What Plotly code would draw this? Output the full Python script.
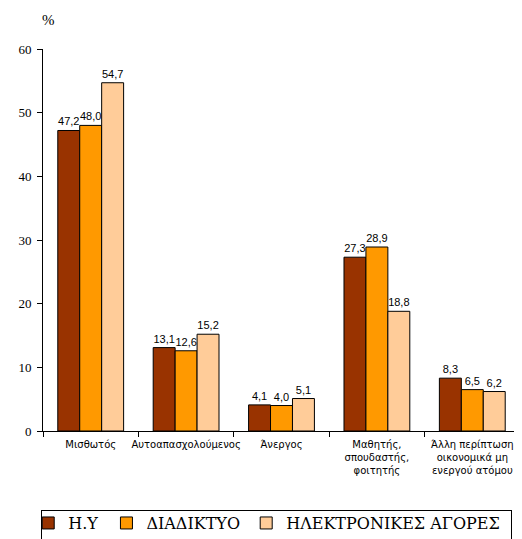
import plotly.graph_objects as go

categories = ["Μισθωτός", "Αυτοαπασχολούμενος", "Άνεργος",
              "Μαθητής,<br>σπουδαστής,<br>φοιτητής",
              "Άλλη περίπτωση<br>οικονομικά μη<br>ενεργού ατόμου"]
series_names = ["Η.Υ", "ΔΙΑΔΙΚΤΥΟ", "ΗΛΕΚΤΡΟΝΙΚΕΣ ΑΓΟΡΕΣ"]
hy = [47.2, 13.1, 4.1, 27.3, 8.3]
internet = [48.0, 12.6, 4.0, 28.9, 6.5]
eshop = [54.7, 15.2, 5.1, 18.8, 6.2]
y_ticks = [0, 10, 20, 30, 40, 50, 60]

colors = ["#993300", "#FF9900", "#FFCC99"]
series = [hy, internet, eshop]
legend_ids = ["legend", "legend2", "legend3"]
legend_x = [-0.031, 0.133, 0.426]

fig = go.Figure()
for name, vals, col, lg in zip(series_names, series, colors, legend_ids):
    fig.add_trace(go.Bar(
        x=categories, y=vals, name=name, legend=lg,
        marker=dict(color=col, line=dict(color="black", width=1)),
        text=[f"{v:.1f}".replace(".", ",") for v in vals],
        textposition="outside", cliponaxis=False,
        textfont=dict(family="Liberation Sans", size=11, color="black"),
    ))

legend_common = dict(orientation="h", y=-0.241, xanchor="left", yanchor="middle",
                     font=dict(family="DejaVu Serif", size=16, color="black"),
                     bgcolor="rgba(0,0,0,0)", itemwidth=30)
layout_legends = {}
for lg, lx in zip(legend_ids, legend_x):
    layout_legends[lg] = dict(legend_common, x=lx)

fig.update_layout(
    width=514, height=531,
    margin=dict(l=35, r=2, t=41, b=108, autoexpand=False),
    paper_bgcolor="white", plot_bgcolor="white",
    barmode="group", bargap=0.31, bargroupgap=0,
    showlegend=True,
    annotations=[
        dict(text="%", x=-0.006, y=1.076, xref="paper", yref="paper",
             xanchor="left", yanchor="middle", showarrow=False,
             font=dict(family="Liberation Serif", size=15, color="black")),
        dict(text=" ", x=-0.004, y=-0.207, xref="paper", yref="paper",
             xanchor="left", yanchor="top", showarrow=False,
             width=469, height=45, borderpad=0, borderwidth=1,
             bordercolor="black", bgcolor="rgba(0,0,0,0)"),
    ],
    **layout_legends,
)
fig.update_yaxes(range=[0, 60], tickvals=y_ticks, showgrid=False,
                 showline=True, linecolor="black", linewidth=1,
                 ticks="outside", ticklen=5, tickcolor="black",
                 ticklabelstandoff=3,
                 tickfont=dict(family="Liberation Serif", size=13, color="black"),
                 zeroline=False)
fig.update_xaxes(showline=True, linecolor="black", linewidth=1,
                 ticks="outside", ticklen=5, tickcolor="black", tickson="boundaries",
                 ticklabelstandoff=4,
                 tickfont=dict(family="DejaVu Sans", size=10, color="black"),
                 tickangle=0)

fig.write_html("out.html")
